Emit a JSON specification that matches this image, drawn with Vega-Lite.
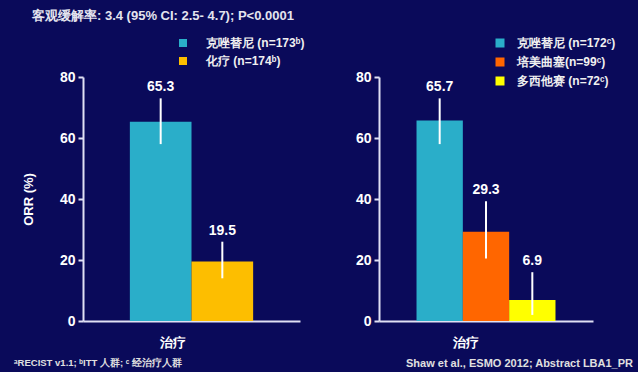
{
  "$schema": "https://vega.github.io/schema/vega-lite/v6.json",
  "background": "#0a0a5a",
  "padding": {"left": 14, "top": 10, "right": 5, "bottom": 5},
  "title": {
    "text": "客观缓解率: 3.4 (95% CI: 2.5- 4.7); P<0.0001",
    "anchor": "start",
    "frame": "bounds",
    "dx": 18,
    "offset": 14,
    "font": "Liberation Sans",
    "fontSize": 13,
    "fontWeight": "bold",
    "color": "#e4e4ee"
  },
  "config": {
    "view": {"stroke": null},
    "font": "Liberation Sans",
    "axis": {
      "grid": false,
      "domainColor": "#e0e0f4",
      "domainWidth": 2,
      "tickColor": "#e0e0f4",
      "tickWidth": 2,
      "labelColor": "#ffffff",
      "labelFont": "Liberation Sans",
      "labelFontWeight": "bold",
      "labelFontSize": 14,
      "titleColor": "#ffffff",
      "titleFont": "Liberation Sans",
      "titleFontWeight": "bold",
      "titleFontSize": 13
    },
    "legend": {
      "labelColor": "#f0f0f0",
      "labelFont": "Liberation Sans",
      "labelFontWeight": "bold",
      "labelFontSize": 12,
      "symbolType": "square",
      "symbolStrokeWidth": 0,
      "symbolOpacity": 1,
      "padding": 0,
      "title": null
    }
  },
  "spacing": 50,
  "resolve": {"scale": {"color": "independent", "y": "independent", "x": "independent", "xOffset": "independent"}},
  "hconcat": [
    {
      "width": 217,
      "height": 244,
      "data": {"values": [
        {"grp": "治疗", "drug": "克唑替尼 (n=173ᵇ)", "value": 65.3, "lo": 58, "hi": 73},
        {"grp": "治疗", "drug": "化疗 (n=174ᵇ)", "value": 19.5, "lo": 14, "hi": 26}
      ]},
      "title": {
        "text": "ᵃRECIST v1.1; ᵇITT 人群; ᶜ 经治疗人群",
        "orient": "bottom",
        "anchor": "start",
        "frame": "group",
        "dx": -69,
        "offset": 9,
        "fontSize": 9.5,
        "fontWeight": "bold",
        "color": "#e0e0e0"
      },
      "encoding": {
        "x": {
          "field": "grp", "type": "nominal",
          "scale": {"paddingInner": 0, "paddingOuter": 0.38},
          "axis": {"title": "治疗", "labels": false, "ticks": false, "titleX": 89, "titleAlign": "center", "titlePadding": 15}
        },
        "xOffset": {"field": "drug", "type": "nominal", "scale": {"domain": ["克唑替尼 (n=173ᵇ)", "化疗 (n=174ᵇ)"]}}
      },
      "layer": [
        {
          "mark": {"type": "bar"},
          "encoding": {
            "y": {"field": "value", "type": "quantitative", "scale": {"domain": [0, 80]},
              "axis": {"title": "ORR (%)", "values": [0, 20, 40, 60, 80], "tickSize": 5, "labelPadding": 3, "titlePadding": 24}},
            "color": {
              "field": "drug", "type": "nominal",
              "scale": {"domain": ["克唑替尼 (n=173ᵇ)", "化疗 (n=174ᵇ)"], "range": ["#2aaec9", "#fdbe00"]},
              "legend": {"orient": "none", "legendX": 94, "legendY": -40, "symbolSize": 64, "labelOffset": 17, "rowPadding": 6}
            }
          }
        },
        {
          "mark": {"type": "rule", "color": "#ffffff", "strokeWidth": 2},
          "encoding": {
            "y": {"field": "lo", "type": "quantitative"},
            "y2": {"field": "hi"}
          }
        },
        {
          "mark": {"type": "text", "color": "#ffffff", "fontSize": 14, "fontWeight": "bold", "baseline": "alphabetic", "dy": -7},
          "encoding": {
            "y": {"field": "hi", "type": "quantitative"},
            "text": {"field": "value", "type": "quantitative", "format": ".1f"}
          }
        }
      ]
    },
    {
      "width": 214,
      "height": 244,
      "data": {"values": [
        {"grp": "治疗", "drug": "克唑替尼 (n=172ᶜ)", "value": 65.7, "lo": 58, "hi": 73},
        {"grp": "治疗", "drug": "培美曲塞(n=99ᶜ)", "value": 29.3, "lo": 20.5, "hi": 39.3},
        {"grp": "治疗", "drug": "多西他赛 (n=72ᶜ)", "value": 6.9, "lo": 2, "hi": 16}
      ]},
      "title": {
        "text": "Shaw et al., ESMO 2012; Abstract LBA1_PR",
        "orient": "bottom",
        "anchor": "end",
        "frame": "group",
        "dx": 40,
        "offset": 9,
        "fontSize": 11,
        "fontWeight": "bold",
        "color": "#e0e0e0"
      },
      "encoding": {
        "x": {
          "field": "grp", "type": "nominal",
          "scale": {"paddingInner": 0, "paddingOuter": 0.27},
          "axis": {"title": "治疗", "labels": false, "ticks": false, "titleX": 86, "titleAlign": "center", "titlePadding": 15}
        },
        "xOffset": {"field": "drug", "type": "nominal", "scale": {"domain": ["克唑替尼 (n=172ᶜ)", "培美曲塞(n=99ᶜ)", "多西他赛 (n=72ᶜ)"]}}
      },
      "layer": [
        {
          "mark": {"type": "bar"},
          "encoding": {
            "y": {"field": "value", "type": "quantitative", "scale": {"domain": [0, 80]},
              "axis": {"title": null, "values": [0, 20, 40, 60, 80], "tickSize": 5, "labelPadding": 3}},
            "color": {
              "field": "drug", "type": "nominal",
              "scale": {"domain": ["克唑替尼 (n=172ᶜ)", "培美曲塞(n=99ᶜ)", "多西他赛 (n=72ᶜ)"], "range": ["#2aaec9", "#ff6600", "#ffff00"]},
              "legend": {"orient": "none", "legendX": 115, "legendY": -40, "symbolSize": 81, "labelOffset": 11, "rowPadding": 7}
            }
          }
        },
        {
          "mark": {"type": "rule", "color": "#ffffff", "strokeWidth": 2},
          "encoding": {
            "y": {"field": "lo", "type": "quantitative"},
            "y2": {"field": "hi"}
          }
        },
        {
          "mark": {"type": "text", "color": "#ffffff", "fontSize": 14, "fontWeight": "bold", "baseline": "alphabetic", "dy": -7},
          "encoding": {
            "y": {"field": "hi", "type": "quantitative"},
            "text": {"field": "value", "type": "quantitative", "format": ".1f"}
          }
        }
      ]
    }
  ]
}
